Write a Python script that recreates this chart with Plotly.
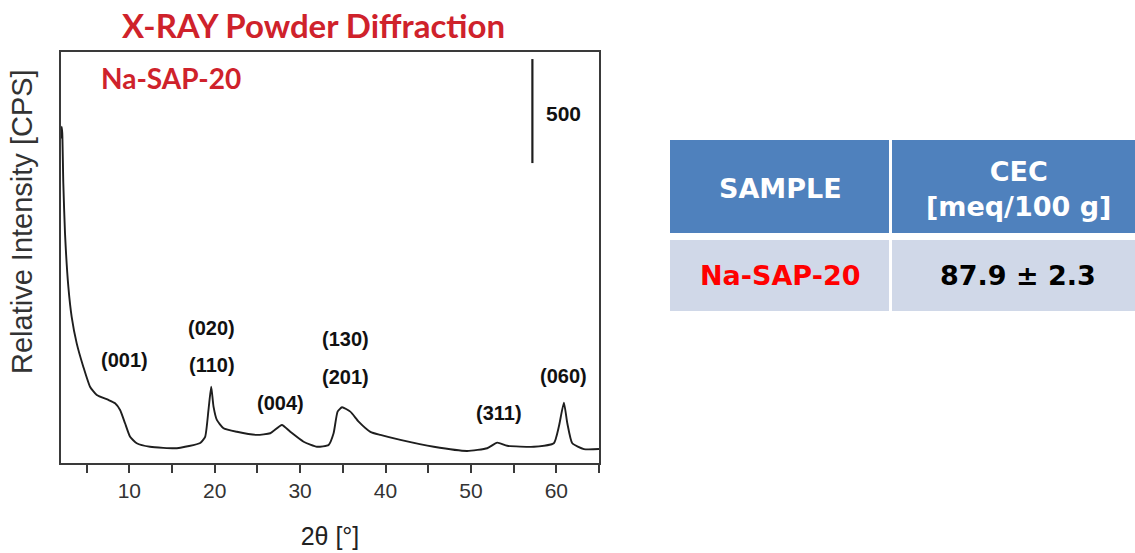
import plotly.graph_objects as go

W, H = 1135, 553

# XRD pattern of Na-SAP-20 (2-theta in degrees, intensity in counts per second)
two_theta = [2.0, 2.08, 2.15, 2.27, 2.47, 2.86, 3.25, 3.84, 4.61, 5.40,
             6.19, 7.55, 8.33, 8.92, 9.50, 10.09, 10.87, 12.43, 15.56, 18.30,
             18.88, 19.27, 19.59, 19.86, 20.25, 21.03, 22.60, 24.94, 26.50, 27.87,
             28.85, 30.41, 31.98, 33.34, 33.92, 34.39, 34.91, 35.88, 36.85, 38.23,
             39.40, 41.74, 45.65, 49.56, 51.91, 53.08, 54.25, 57.37, 59.71, 60.30,
             60.89, 61.29, 61.87, 63.23, 65.0]
intensity = [1560, 1617, 1585, 1345, 1104, 848, 703, 575, 463, 367,
             327, 303, 287, 255, 191, 126, 95, 78, 71, 96,
             126, 255, 367, 271, 207, 167, 150, 135, 143, 183,
             150, 102, 78, 87, 143, 247, 268, 247, 199, 150,
             135, 111, 78, 58, 71, 98, 83, 78, 95, 175,
             290, 191, 95, 67, 67]

# Miller indices of the reflections and where their labels sit
hkl_labels = ["(001)", "(020)", "(110)", "(004)", "(130)", "(201)", "(311)", "(060)"]
hkl_x = [9.39, 19.67, 19.67, 27.67, 35.29, 35.29, 53.27, 60.89]
hkl_y = [495, 648, 471, 287, 595, 415, 239, 418]

# intensity scale bar
scale_bar_x = 57.2
scale_bar_base = 1442
scale_bar_size = 500

sample_name = "Na-SAP-20"
table_headers = ["SAMPLE", "CEC<br>[meq/100 g]"]
cec_value = 87.9
cec_error = 2.3

x_range = [2, 65]
y_range = [0, 1976]
x_ticks = [10, 20, 30, 40, 50, 60]

# plot area in pixels
L, R, T, B = 61, 599, 52, 463

def px(x):
    return x / W

def py(y):
    return 1 - y / H

fig = go.Figure()

fig.add_trace(go.Scatter(
    x=two_theta, y=intensity, mode="lines",
    line=dict(color="#1e1e1e", width=1.9, shape="spline", smoothing=0.5),
    hoverinfo="skip", showlegend=False,
))

fig.add_trace(go.Scatter(
    x=[scale_bar_x, scale_bar_x],
    y=[scale_bar_base, scale_bar_base + scale_bar_size],
    mode="lines", line=dict(color="#1e1e1e", width=2.2),
    hoverinfo="skip", showlegend=False,
))

annotations = []
for lab, x, y in zip(hkl_labels, hkl_x, hkl_y):
    annotations.append(dict(
        x=x, y=y, xref="x", yref="y", text="<b>%s</b>" % lab, showarrow=False,
        font=dict(family="Liberation Sans, Arial", size=20, color="#111111"),
        xanchor="center", yanchor="middle",
    ))

annotations.append(dict(
    x=scale_bar_x + 1.4, y=scale_bar_base + scale_bar_size / 2 - 10,
    xref="x", yref="y", text="<b>%d</b>" % scale_bar_size, showarrow=False,
    font=dict(family="Liberation Sans, Arial", size=21, color="#111111"),
    xanchor="left", yanchor="middle",
))

annotations.append(dict(
    x=6.4, y=1851, xref="x", yref="y", text="<b>%s</b>" % sample_name,
    showarrow=False, xanchor="left", yanchor="middle",
    font=dict(family="Lato, Open Sans", size=28, color="#cf222b"),
))

annotations.append(dict(
    x=px(313), y=py(25), xref="paper", yref="paper",
    text="<b>X-RAY Powder Diffraction</b>", showarrow=False,
    xanchor="center", yanchor="middle",
    font=dict(family="Lato, Open Sans", size=33, color="#cf222b"),
))

# y axis title
annotations.append(dict(
    x=px(22), y=py(222), xref="paper", yref="paper",
    text="Relative Intensity [CPS]", showarrow=False, textangle=-90,
    xanchor="center", yanchor="middle",
    font=dict(family="Liberation Sans, Arial", size=29, color="#333333"),
))

# CEC table
shapes = []
header_color = "#4f81bd"
row_color = "#d0d8e8"
cols = [(670, 889), (892, 1135)]
rows = [(140, 233, header_color), (240, 311, row_color)]
for (y0, y1, c) in rows:
    for (x0, x1) in cols:
        shapes.append(dict(type="rect", xref="paper", yref="paper",
                           x0=px(x0), x1=px(x1), y0=py(y1), y1=py(y0),
                           fillcolor=c, line=dict(width=0), layer="below"))

col_centers = [780, 1018]
tfont = "DejaVu Sans, Verdana"
cells = [
    (col_centers[0], 188, "<b>%s</b>" % table_headers[0], "white"),
    (col_centers[1], 189, "<b>%s</b>" % table_headers[1], "white"),
    (col_centers[0], 275, "<b>%s</b>" % sample_name, "#ff0000"),
    (col_centers[1], 275, "<b>%.1f ± %.1f</b>" % (cec_value, cec_error), "#000000"),
]
for cx, cy, txt, col in cells:
    annotations.append(dict(
        x=px(cx), y=py(cy), xref="paper", yref="paper",
        text=txt, showarrow=False, xanchor="center", yanchor="middle",
        font=dict(family=tfont, size=27, color=col),
    ))

fig.update_layout(
    width=W, height=H,
    margin=dict(l=0, r=0, t=0, b=0),
    paper_bgcolor="white", plot_bgcolor="white",
    showlegend=False,
    annotations=annotations, shapes=shapes,
    xaxis=dict(
        domain=[px(L), px(R)], range=x_range,
        showline=True, linecolor="#3a3a3a", linewidth=1.6, mirror=True,
        showgrid=False, zeroline=False,
        tickmode="array", tickvals=x_ticks,
        ticks="outside", ticklen=8, tickwidth=1.5, tickcolor="#3a3a3a",
        minor=dict(dtick=5, tick0=0, ticks="outside", ticklen=8,
                   tickwidth=1.5, tickcolor="#3a3a3a", showgrid=False),
        tickfont=dict(family="Liberation Sans, Arial", size=21, color="#333333"),
        title=dict(text="2θ [°]", standoff=26,
                   font=dict(family="Liberation Sans, Arial", size=25, color="#222222")),
        automargin=False,
    ),
    yaxis=dict(
        domain=[py(B), py(T)], range=y_range,
        showline=True, linecolor="#3a3a3a", linewidth=1.6, mirror=True,
        showgrid=False, zeroline=False, showticklabels=False, ticks="",
        automargin=False,
    ),
)

fig.write_html("out.html")
